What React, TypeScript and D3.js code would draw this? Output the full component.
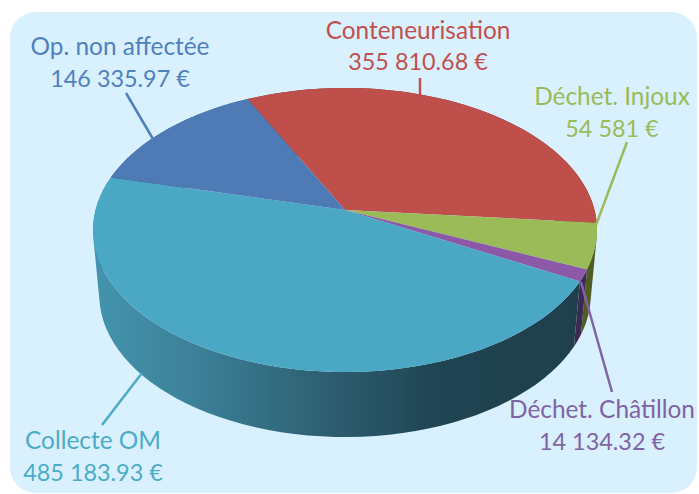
import React from 'react';
import * as d3 from 'd3';

// Slice values, in pie order going clockwise from the red/blue boundary
const categories = ['Conteneurisation', 'Déchet. Injoux', 'Déchet. Châtillon', 'Collecte OM', 'Op. non affectée'];
const amounts = [355810.68, 54581, 14134.32, 485183.93, 146335.97];
const amountLabels = ['355 810.68 €', '54 581 €', '14 134.32 €', '485 183.93 €', '146 335.97 €'];

// Colours per slice
const topColors = ['#bf4f4b', '#9bbb59', '#8c58a8', '#4aa8c4', '#4e7ab6'];
const textColors = ['#c0504d', '#9bbb59', '#8064a2', '#4bacc6', '#4f81bd'];
const wallColors = ['#7a2f2d', '#4f5c22', '#3b2a52', 'url(#wall)', '#2f4f75'];

// Side wall shading of the big slice, left to right
const wallStops = [
  [0, '#4494ad'], [0.2, '#3c8199'], [0.42, '#306578'], [0.52, '#2a586a'],
  [0.7, '#1f4452'], [1, '#1f3f4c'],
];

// Label placement: centre x, two baselines, then the leader line
const labelLayout = [
  { x: 418, y1: 39, y2: 70, line: [[420, 78], [420, 96]] },
  { x: 612, y1: 105, y2: 137, line: [[627, 142], [596, 225]] },
  { x: 602, y1: 418, y2: 450, line: [[581, 282], [612, 392]] },
  { x: 93, y1: 449, y2: 481, line: [[142, 373], [102, 425]] },
  { x: 120, y1: 55, y2: 87, line: [[126, 93], [153, 139]] },
];

const WIDTH = 699;
const HEIGHT = 494;
const CX = 345;
const CY = 210; // where the slices meet
const DEPTH = 65;
const PERSP = 0.1408;
const RX = 249.5;
const RY = 139.2;
const START = (-26.1 * Math.PI) / 180;

// Perspective projection of a point on the unit disc
const project = (angle: number, r = 1, scaleX = 1, dy = 0): [number, number] => {
  const u = Math.sin(angle) * r;
  const v = -Math.cos(angle) * r;
  const w = 1 - PERSP * v;
  return [CX + (RX * scaleX * u) / w, CY + dy + (RY * v) / w];
};

const arcPoints = (a0: number, a1: number, scaleX = 1, dy = 0) =>
  d3.range(0, 61).map((i) => project(a0 + ((a1 - a0) * i) / 60, 1, scaleX, dy));

const line = d3.line();

// The wall folds over at the left and right edges, so every quad gets the same
// winding, otherwise the overlapping parts cancel out
const wallPath = (a0: number, a1: number) => {
  const top = arcPoints(a0, a1);
  const bottom = arcPoints(a0, a1, 0.975, DEPTH);
  return d3.range(0, 60).map((i) => {
    const quad: [number, number][] = [top[i], top[i + 1], bottom[i + 1], bottom[i]];
    if (d3.polygonArea(quad) < 0) quad.reverse();
    return line(quad) + 'Z';
  }).join('');
};

export default function App() {
  const pie = d3.pie<number>().sort(null).startAngle(START).endAngle(START + Math.PI * 2);
  const slices = pie(amounts);

  return (
    <svg
      width={WIDTH}
      height={HEIGHT}
      style={{ position: 'absolute', left: 0, top: 0, background: '#fff' }}
      fontFamily="Lato, 'Noto Sans', sans-serif"
    >
      <defs>
        <linearGradient id="wall" gradientUnits="userSpaceOnUse" x1={95} x2={590} y1={0} y2={0}>
          {wallStops.map(([o, c]) => (
            <stop key={o as number} offset={o as number} stopColor={c as string} />
          ))}
        </linearGradient>
      </defs>
      <rect x={10} y={12} width={687} height={481} rx={26} fill="#d9f0ff" />

      {/* side wall */}
      {slices.map((s, i) => (
        <path key={i} d={wallPath(s.startAngle, s.endAngle)} fill={wallColors[i]} />
      ))}

      {/* top face */}
      {slices.map((s, i) => {
        const pts = [[CX, CY], ...arcPoints(s.startAngle, s.endAngle)];
        return <path key={i} d={line(pts as [number, number][]) + 'Z'} fill={topColors[i]} />;
      })}

      {/* leader lines and labels */}
      {categories.map((c, i) => {
        const l = labelLayout[i];
        return (
          <g key={c} fill={textColors[i]} textAnchor="middle">
            <path d={line(l.line as [number, number][]) as string} stroke={textColors[i]} strokeWidth={2.5} fill="none" />
            <text x={l.x} y={l.y1} fontSize={24.4}>{c}</text>
            <text x={l.x} y={l.y2} fontSize={23.4}>{amountLabels[i]}</text>
          </g>
        );
      })}
    </svg>
  );
}
